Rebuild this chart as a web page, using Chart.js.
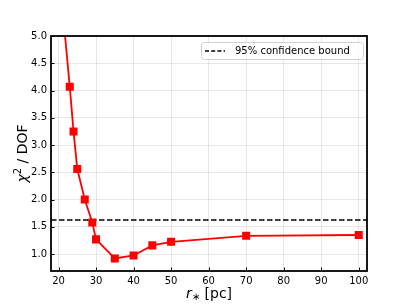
<!DOCTYPE html>
<html>
<head>
<meta charset="utf-8">
<script src="https://cdn.jsdelivr.net/npm/chart.js@4"></script>
<style>
  html, body { margin: 0; padding: 0; background: #fff; }
  #wrap { width: 407px; height: 305px; }
</style>
</head>
<body>
<div id="wrap"><canvas id="chi2Chart"></canvas></div>
<script>
// r* values (pc) and chi2/DOF
const rStar = [21, 23, 24, 25, 27, 29, 30, 35, 40, 45, 50, 70, 100];
const chi2Dof = [5.55, 4.07, 3.25, 2.56, 2.0, 1.58, 1.27, 0.92, 0.975, 1.16, 1.225, 1.335, 1.35];
const confBound = 1.625;
const xTicks = [20, 30, 40, 50, 60, 70, 80, 90, 100];
const yTicks = [1.0, 1.5, 2.0, 2.5, 3.0, 3.5, 4.0, 4.5, 5.0];
const xLimits = [18, 102.2];
const yLimits = [0.69, 5.0];

const font = "'DejaVu Sans', sans-serif";

// frame, inward ticks, legend and axis labels
const framePlugin = {
  id: 'frame',
  afterDraw(chart) {
    const ctx = chart.ctx;
    const a = chart.chartArea;
    const xs = chart.scales.x, ys = chart.scales.y;
    ctx.save();
    ctx.strokeStyle = '#000';
    ctx.lineWidth = 1;
    xTicks.forEach(v => {
      const px = Math.round(xs.getPixelForValue(v)) + 0.5;
      ctx.beginPath(); ctx.moveTo(px, a.bottom); ctx.lineTo(px, a.bottom - 3.5); ctx.stroke();
    });
    yTicks.forEach(v => {
      const py = Math.round(ys.getPixelForValue(v)) + 0.5;
      ctx.beginPath(); ctx.moveTo(a.left, py); ctx.lineTo(a.left + 3.5, py); ctx.stroke();
    });
    ctx.lineWidth = 1.8;
    ctx.strokeRect(a.left, a.top, a.right - a.left, a.bottom - a.top);

    // legend
    const ds = chart.data.datasets[1];
    const lx = 201, ly = 42, lw = 162, lh = 17;
    ctx.beginPath();
    ctx.roundRect(lx + 0.5, ly + 0.5, lw, lh, 3);
    ctx.fillStyle = 'rgba(255,255,255,0.8)';
    ctx.fill();
    ctx.strokeStyle = '#d0d0d0';
    ctx.lineWidth = 1;
    ctx.stroke();
    ctx.beginPath();
    ctx.setLineDash([4, 2.2]);
    ctx.strokeStyle = '#000';
    ctx.lineWidth = 1.5;
    ctx.moveTo(lx + 4, ly + 9); ctx.lineTo(lx + 24, ly + 9); ctx.stroke();
    ctx.setLineDash([]);
    ctx.fillStyle = '#000';
    ctx.font = '10px ' + font;
    ctx.textBaseline = 'middle';
    ctx.textAlign = 'left';
    ctx.fillText(ds.label, lx + 34, ly + 9);

    // x label: r* [pc]
    const cx = (a.left + a.right) / 2;
    ctx.font = 'italic 14px ' + font;
    const wR = ctx.measureText('r').width;
    ctx.font = '10px ' + font;
    const wS = ctx.measureText('\u2217').width;
    ctx.font = '14px ' + font;
    const wT = ctx.measureText(' [pc]').width;
    let sx = cx - (wR + wS + wT) / 2;
    ctx.textBaseline = 'alphabetic';
    ctx.font = 'italic 14px ' + font;
    ctx.fillText('r', sx, 298);
    ctx.font = '10px ' + font;
    ctx.fillText('\u2217', sx + wR, 300);
    ctx.font = '14px ' + font;
    ctx.fillText(' [pc]', sx + wR + wS, 298);

    // y label: chi^2 / DOF
    ctx.translate(27, (a.top + a.bottom) / 2);
    ctx.rotate(-Math.PI / 2);
    ctx.font = 'italic 14px ' + font;
    const wC = ctx.measureText('\u03c7').width;
    ctx.font = '10px ' + font;
    const w2 = ctx.measureText('2').width;
    ctx.font = '14px ' + font;
    const wD = ctx.measureText(' / DOF').width;
    sx = -(wC + w2 + wD) / 2;
    ctx.font = 'italic 14px ' + font;
    ctx.fillText('\u03c7', sx, 0);
    ctx.font = '10px ' + font;
    ctx.fillText('2', sx + wC, -6);
    ctx.font = '14px ' + font;
    ctx.fillText(' / DOF', sx + wC + w2, 0);
    ctx.restore();
  }
};

new Chart(document.getElementById('chi2Chart'), {
  type: 'line',
  data: {
    datasets: [
      {
        label: 'chi2',
        data: rStar.map((r, i) => ({ x: r, y: chi2Dof[i] })),
        borderColor: '#ff0000',
        backgroundColor: '#ff0000',
        borderWidth: 1.8,
        pointStyle: 'rect',
        pointRadius: 4.4,
        pointHoverRadius: 4.4,
        tension: 0
      },
      {
        label: '95% confidence bound',
        data: xLimits.map(x => ({ x: x, y: confBound })),
        borderColor: '#000',
        borderWidth: 1.5,
        borderDash: [5.5, 2.5],
        pointRadius: 0
      }
    ]
  },
  options: {
    responsive: true,
    maintainAspectRatio: false,
    animation: false,
    layout: { padding: { top: 36, right: 40, left: 0, bottom: 0 } },
    plugins: {
      legend: { display: false },
      tooltip: { enabled: false }
    },
    scales: {
      x: {
        type: 'linear',
        min: xLimits[0],
        max: xLimits[1],
        afterBuildTicks: s => { s.ticks = xTicks.map(v => ({ value: v })); },
        afterFit: s => { s.height = 34; },
        grid: { color: 'rgba(0,0,0,0.09)', drawTicks: false },
        border: { display: false },
        ticks: {
          padding: 4,
          color: '#000',
          font: { family: font, size: 10 },
          maxRotation: 0
        }
      },
      y: {
        type: 'linear',
        min: yLimits[0],
        max: yLimits[1],
        afterBuildTicks: s => { s.ticks = yTicks.map(v => ({ value: v })); },
        afterFit: s => { s.width = 51; },
        grid: { color: 'rgba(0,0,0,0.09)', drawTicks: false },
        border: { display: false },
        ticks: {
          padding: 4,
          color: '#000',
          font: { family: font, size: 10 },
          callback: v => v.toFixed(1)
        }
      }
    }
  },
  plugins: [framePlugin]
});
</script>
</body>
</html>
